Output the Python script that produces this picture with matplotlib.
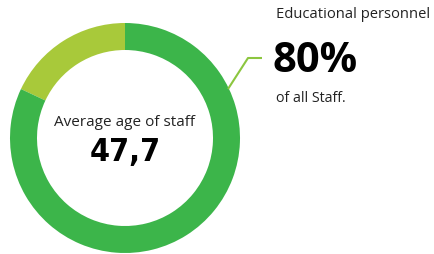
import matplotlib.pyplot as plt

# donut shares (light segment starts at top)
shares = [18, 82]
colors = ['#a8c93a', '#3cb54a']

center_label = 'Average age of staff'
center_value = '47,7'
side_title = 'Educational personnel'
side_value = '80%'
side_note = 'of all Staff.'

W, H = 434, 255
fig = plt.figure(figsize=(W / 100, H / 100), dpi=100)
ax = fig.add_axes([0, 0, 1, 1])

cx, cy = 125, H - 139
r_out, r_in = 115, 88

ax.pie(shares, colors=colors, startangle=90, counterclock=True,
       radius=r_out, center=(cx, cy), frame=True,
       wedgeprops=dict(width=r_out - r_in, linewidth=0))

# connector line from ring to the label
ax.plot([228, 248, 262], [H - 90, H - 59, H - 59], color='#8cc63f', lw=1.5,
        solid_capstyle='butt')

ax.text(cx, H - 122, center_label, ha='center', va='center',
        fontsize=11, family='Open Sans', color='#222222')
ax.text(cx, H - 152, center_value, ha='center', va='center',
        fontsize=23, fontweight='bold', fontstretch='condensed',
        family='DejaVu Sans', color='#000000')

ax.text(276, H - 15, side_title, ha='left', va='center',
        fontsize=10.6, family='Open Sans', color='#222222')
ax.text(273, H - 62, side_value, ha='left', va='center',
        fontsize=30, fontweight='bold', family='Open Sans', color='#000000')
ax.text(276, H - 98, side_note, ha='left', va='center',
        fontsize=10.3, family='Open Sans', color='#222222')

ax.set_xlim(0, W)
ax.set_ylim(0, H)
ax.set_aspect('equal')
ax.axis('off')

fig.savefig('out.png', dpi=100, facecolor='white')
